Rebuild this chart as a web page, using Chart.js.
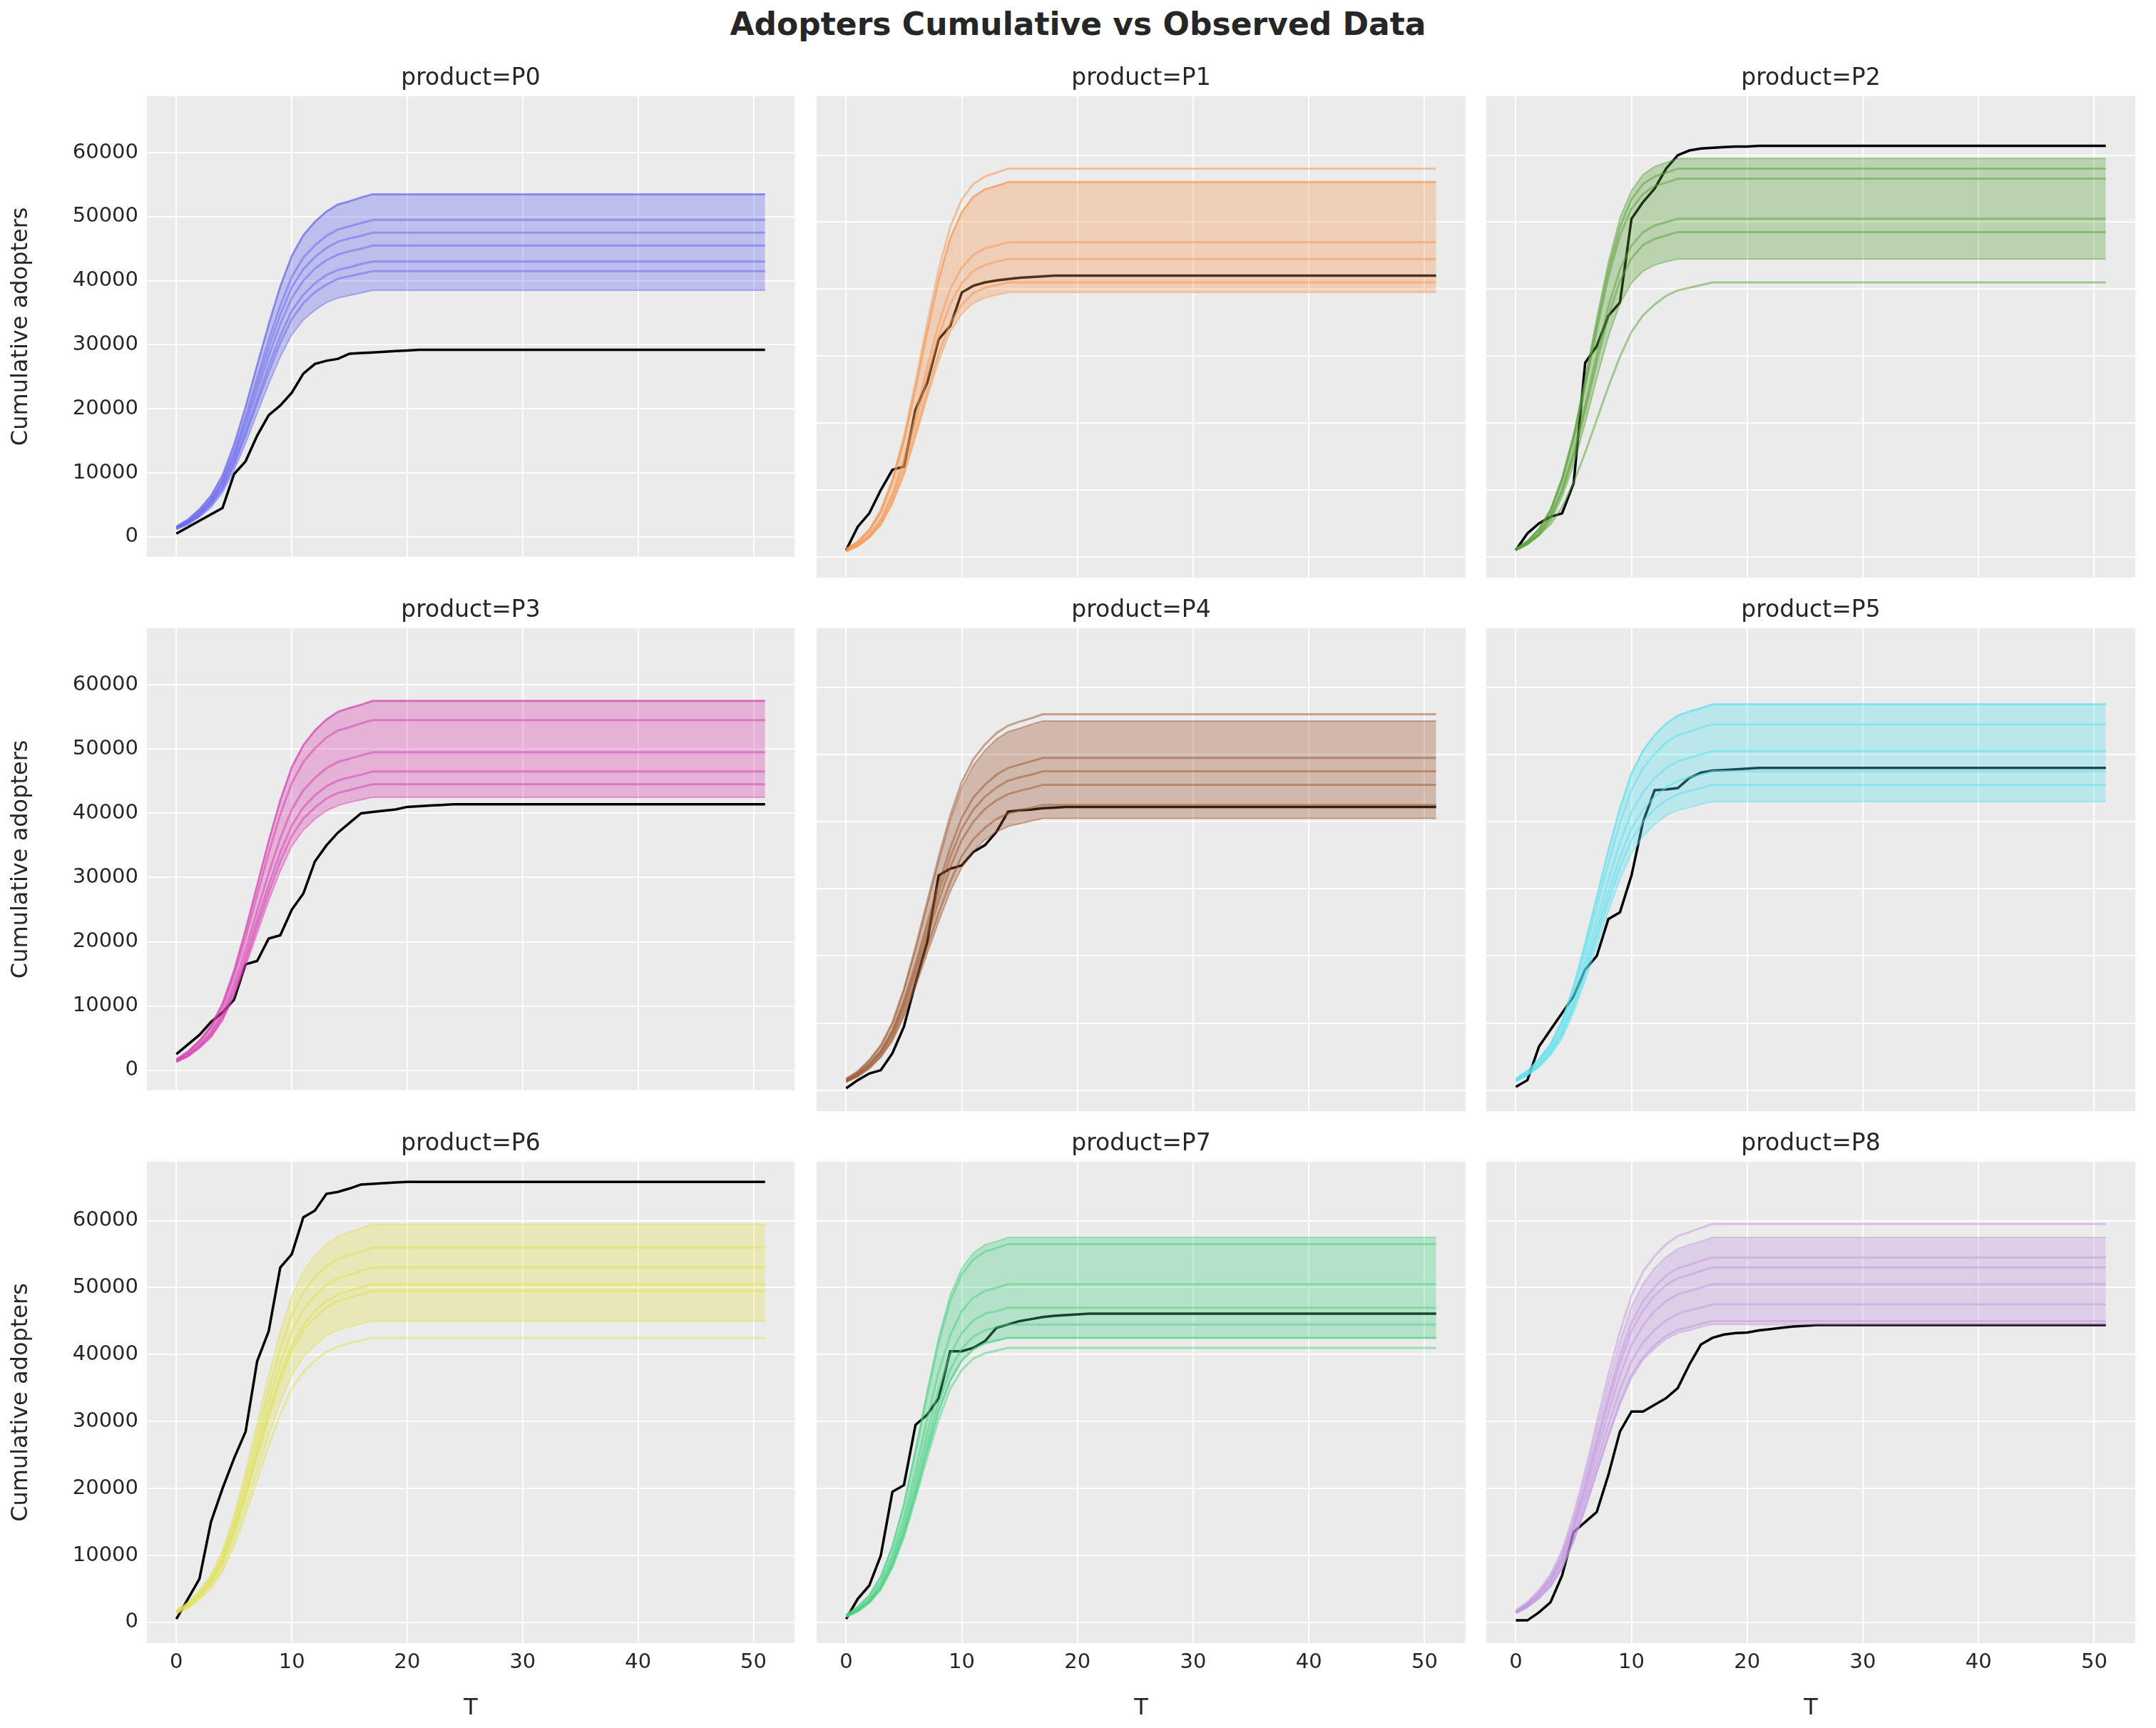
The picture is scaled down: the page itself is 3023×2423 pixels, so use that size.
<!DOCTYPE html>
<html><head><meta charset="utf-8">
<script src="https://cdn.jsdelivr.net/npm/chart.js@4"></script>
<style>
body{margin:0;background:#fff;width:3023px;height:2423px;position:relative;overflow:hidden;font-family:"DejaVu Sans",sans-serif}
canvas{position:absolute}
#title{position:absolute;top:8px;left:0;width:3023px;text-align:center;font-weight:bold;font-size:44px;color:#262626}
</style></head><body>
<div id="title">Adopters Cumulative vs Observed Data</div>
<script>
// values in thousands of adopters, T = 0,1,2,... (the flat tail repeats the last value up to T=51)
const T_MAX = 51;
const products = ["P0","P1","P2","P3","P4","P5","P6","P7","P8"];
const xTicks = [0,10,20,30,40,50];
const yTicks = [0,10,20,30,40,50,60];

// slower-rising sample curves
const S59_5=[1.8,3,4.8,7.1,10.7,16.1,22.6,29.8,36.9,43.4,48.8,52.4,54.7,56.5,57.7,58.3,58.9,59.5];
const S57_5=[1.7,2.9,4.6,6.9,10.4,15.5,21.9,28.8,35.7,42,47.2,50.6,52.9,54.6,55.8,56.4,56.9,57.5];
const S56=[1.7,2.8,4.5,6.7,10.1,15.1,21.3,28,34.7,40.9,45.9,49.3,51.5,53.2,54.3,54.9,55.4,56];
const S55=[1.7,2.8,4.4,6.6,9.9,14.9,20.9,27.5,34.1,40.2,45.1,48.4,50.6,52.3,53.4,53.9,54.5,55];
const S54_5=[1.6,2.7,4.4,6.5,9.8,14.7,20.7,27.3,33.8,39.8,44.7,48,50.1,51.8,52.9,53.4,54,54.5];
const S53_5=[1.6,2.7,4.3,6.4,9.6,14.4,20.3,26.8,33.2,39.1,43.9,47.1,49.2,50.8,51.9,52.4,53,53.5];
const S53=[1.6,2.7,4.2,6.4,9.5,14.3,20.1,26.5,32.9,38.7,43.5,46.6,48.8,50.4,51.4,51.9,52.5,53];
const S50_5=[1.5,2.5,4,6.1,9.1,13.6,19.2,25.3,31.3,36.9,41.4,44.4,46.5,48,49,49.5,50,50.5];
const S49_5=[1.5,2.5,4,5.9,8.9,13.4,18.8,24.8,30.7,36.1,40.6,43.6,45.5,47,48,48.5,49,49.5];
const S47_5=[1.4,2.4,3.8,5.7,8.6,12.8,18.1,23.8,29.5,34.7,39,41.8,43.7,45.1,46.1,46.6,47,47.5];
const S46_5=[1.4,2.3,3.7,5.6,8.4,12.6,17.7,23.3,28.8,33.9,38.1,40.9,42.8,44.2,45.1,45.6,46,46.5];
const S45_5=[1.4,2.3,3.6,5.5,8.2,12.3,17.3,22.8,28.2,33.2,37.3,40,41.9,43.2,44.1,44.6,45,45.5];
const S45=[1.4,2.3,3.6,5.4,8.1,12.2,17.1,22.5,27.9,32.9,36.9,39.6,41.4,42.8,43.7,44.1,44.6,45];
const S44_5=[1.3,2.2,3.6,5.3,8,12,16.9,22.3,27.6,32.5,36.5,39.2,40.9,42.3,43.2,43.6,44.1,44.5];
const S43=[1.3,2.2,3.4,5.2,7.7,11.6,16.3,21.5,26.7,31.4,35.3,37.8,39.6,40.9,41.7,42.1,42.6,43];
const S42_5=[1.3,2.1,3.4,5.1,7.7,11.5,16.2,21.3,26.4,31,34.9,37.4,39.1,40.4,41.2,41.7,42.1,42.5];
const S41_5=[1.2,2.1,3.3,5,7.5,11.2,15.8,20.8,25.7,30.3,34,36.5,38.2,39.4,40.3,40.7,41.1,41.5];
const S41=[1.2,2.1,3.3,4.9,7.4,11.1,15.6,20.5,25.4,29.9,33.6,36.1,37.7,39,39.8,40.2,40.6,41];
const S40_5=[1.2,2,3.2,4.9,7.3,10.9,15.4,20.3,25.1,29.6,33.2,35.6,37.3,38.5,39.3,39.7,40.1,40.5];
const S38_5=[1.2,1.9,3.1,4.6,6.9,10.4,14.6,19.3,23.9,28.1,31.6,33.9,35.4,36.6,37.3,37.7,38.1,38.5];
// faster-rising sample curves
const F59_5=[1.2,2.4,4.2,7.1,11.9,18.4,26.8,35.7,44,50.6,54.7,57.1,58.3,58.9,59.5];
const F58=[1.2,2.3,4.1,7,11.6,18,26.1,34.8,42.9,49.3,53.4,55.7,56.8,57.4,58];
const F57_5=[1.2,2.3,4,6.9,11.5,17.8,25.9,34.5,42.6,48.9,52.9,55.2,56.4,56.9,57.5];
const F56_5=[1.1,2.3,4,6.8,11.3,17.5,25.4,33.9,41.8,48,52,54.2,55.4,55.9,56.5];
const F56=[1.1,2.2,3.9,6.7,11.2,17.4,25.2,33.6,41.4,47.6,51.5,53.8,54.9,55.4,56];
const F50_5=[1,2,3.5,6.1,10.1,15.7,22.7,30.3,37.4,42.9,46.5,48.5,49.5,50,50.5];
const F48_5=[1,1.9,3.4,5.8,9.7,15,21.8,29.1,35.9,41.2,44.6,46.6,47.5,48,48.5];
const F47=[.9,1.9,3.3,5.6,9.4,14.6,21.2,28.2,34.8,40,43.2,45.1,46.1,46.5,47];
const F44_5=[.9,1.8,3.1,5.3,8.9,13.8,20,26.7,32.9,37.8,40.9,42.7,43.6,44.1,44.5];
const F42_5=[.9,1.7,3,5.1,8.5,13.2,19.1,25.5,31.5,36.1,39.1,40.8,41.7,42.1,42.5];
const F41=[.8,1.6,2.9,4.9,8.2,12.7,18.5,24.6,30.3,34.9,37.7,39.4,40.2,40.6,41];
const F39_5=[.8,1.6,2.8,4.7,7.9,12.2,17.8,23.7,29.2,33.6,36.3,37.9,38.7,39.1,39.5];

// observed cumulative adopters
const obsP0=[0.5,1.5,2.5,3.5,4.5,9.8,11.8,15.8,19,20.5,22.5,25.5,27,27.5,27.8,28.6,28.7,28.8,28.9,29,29.1,29.2];
const obsP1=[1,4.5,6.5,10,13,13.5,22,26,32.5,34.5,39.5,40.5,41,41.3,41.5,41.7,41.8,41.9,42];
const obsP2=[1,3.5,5,6,6.5,11,29,31.5,36,38,50.5,53,55,58,60,60.7,61,61.1,61.2,61.3,61.3,61.4];
const obsP3=[2.5,4,5.5,7.5,9,11,16.5,17,20.5,21,25,27.5,32.5,35,37,38.5,40,40.2,40.4,40.6,41,41.1,41.2,41.3,41.4];
const obsP4=[0.3,1.5,2.5,3,5.5,9.5,16,22,32,33,33.5,35.5,36.5,38.5,41.5,41.7,41.8,42,42.1,42.2];
const obsP5=[0.5,1.5,6.5,9,11.5,14,18,20,25.5,26.5,32,40,44.7,44.8,45,46.5,47.3,47.6,47.7,47.8,47.9,48];
const obsP6=[0.5,3.5,6.5,15,20,24.5,28.5,39,43.5,53,55,60.5,61.5,64,64.3,64.8,65.4,65.5,65.6,65.7,65.8];
const obsP7=[0.5,3.5,5.5,10,19.5,20.5,29.5,31,33.5,40.5,40.5,41,42,44,44.5,45,45.3,45.6,45.8,45.9,46,46.1];
const obsP8=[0.3,0.3,1.5,3,7,13.5,15,16.5,22,28.5,31.5,31.5,32.5,33.5,35,38.5,41.5,42.5,43,43.2,43.3,43.6,43.8,44,44.2,44.3,44.4];

const observed=[obsP0,obsP1,obsP2,obsP3,obsP4,obsP5,obsP6,obsP7,obsP8];
const bandLow=[S38_5,F39_5,F44_5,S42_5,S40_5,S43,S45,F42_5,S44_5];
const bandHigh=[S53_5,F56,F59_5,S57_5,S55,S57_5,S59_5,F57_5,S57_5];
const samples=[
 [S53_5,S49_5,S45_5,S43,S41_5,S47_5],
 [F58,F47,F44_5,F41,F56],
 [F56_5,F50_5,F48_5,S41,F58],
 [S57_5,S54_5,S49_5,S46_5,S44_5],
 [S56,S49_5,S47_5,S45_5,S42_5],
 [S57_5,S54_5,S50_5,S47_5,S45_5],
 [S56,S53,S49_5,S42_5,S50_5],
 [F56_5,F50_5,F47,F44_5,F41,F42_5],
 [S59_5,S54_5,S53,S50_5,S47_5,S45]
];
const colors=[[99,99,240],[245,150,80],[90,160,55],[215,60,175],[155,85,45],[90,225,240],[225,225,80],[70,210,130],[195,150,225]];

function pts(a){const o=[];for(let t=0;t<=T_MAX;t++)o.push({x:t,y:a[Math.min(t,a.length-1)]});return o;}

const plotX=[[206,1114],[1145,2055],[2084,2994]];
const plotY=[[135,810],[881,1558],[1629,2304]];

const bgPlugin={id:'bg',beforeDraw(c){const a=c.chartArea,g=c.ctx;g.save();g.fillStyle='#ebebeb';g.fillRect(a.left,a.top,a.right-a.left,a.bottom-a.top);g.restore();}};
const ttlPlugin={id:'ttl',afterDraw(c,args,o){const a=c.chartArea,g=c.ctx;g.save();g.font='33px "DejaVu Sans"';g.fillStyle='#262626';g.textAlign='center';g.textBaseline='bottom';g.fillText(o.text,(a.left+a.right)/2,a.top-8);g.restore();}};

products.forEach((p,i)=>{
  const col=i%3,row=Math.floor(i/3);
  const yw=col===0?200:0, xh=row===2?115:0;
  const [l,r]=plotX[col],[t,b]=plotY[row];
  const cv=document.createElement('canvas');
  const W=r-l+yw, H=b-t+70+xh;
  cv.width=W;cv.height=H;cv.style.left=(l-yw)+'px';cv.style.top=(t-70)+'px';
  cv.style.width=W+'px';cv.style.height=H+'px';
  document.body.appendChild(cv);
  const [R,G,B]=colors[i];
  const ds=[];
  ds.push({data:pts(bandLow[i]),borderColor:`rgba(${R},${G},${B},0.45)`,borderWidth:2,pointRadius:0,fill:false});
  ds.push({data:pts(bandHigh[i]),borderColor:`rgba(${R},${G},${B},0.45)`,borderWidth:2,pointRadius:0,fill:'-1',backgroundColor:`rgba(${R},${G},${B},0.33)`});
  samples[i].forEach(s=>ds.push({data:pts(s),borderColor:`rgba(${R},${G},${B},0.5)`,borderWidth:3,pointRadius:0,fill:false}));
  ds.push({data:pts(observed[i]),borderColor:'#000',borderWidth:3.5,pointRadius:0,fill:false});
  new Chart(cv,{type:'line',data:{datasets:ds},plugins:[bgPlugin,ttlPlugin],
    options:{responsive:false,devicePixelRatio:1,animation:false,
      layout:{padding:{top:70,left:0,right:0,bottom:0}},
      plugins:{legend:{display:false},tooltip:{enabled:false},ttl:{text:'product='+p}},
      elements:{line:{tension:0}},
      scales:{
        x:{type:'linear',min:-2.55,max:53.55,
          afterBuildTicks:s=>{s.ticks=xTicks.map(v=>({value:v}));},
          afterFit:s=>{s.height=xh;},
          grid:{color:'#ffffff',lineWidth:2,drawTicks:false},border:{display:false},
          ticks:{display:row===2,font:{size:29,family:'DejaVu Sans'},color:'#262626',padding:10,maxRotation:0},
          title:{display:row===2,text:'T',font:{size:32,family:'DejaVu Sans'},color:'#262626',padding:{top:4}}},
        y:{type:'linear',min:-3.1,max:68.8,
          afterBuildTicks:s=>{s.ticks=yTicks.map(v=>({value:v}));},
          afterFit:s=>{s.width=yw;},
          grid:{color:'#ffffff',lineWidth:2,drawTicks:false},border:{display:false},
          ticks:{display:col===0,font:{size:29,family:'DejaVu Sans'},color:'#262626',padding:12,callback:v=>String(v*1000)},
          title:{display:col===0,text:'Cumulative adopters',font:{size:32,family:'DejaVu Sans'},color:'#262626'}}
      }}});
});
</script>
</body></html>
